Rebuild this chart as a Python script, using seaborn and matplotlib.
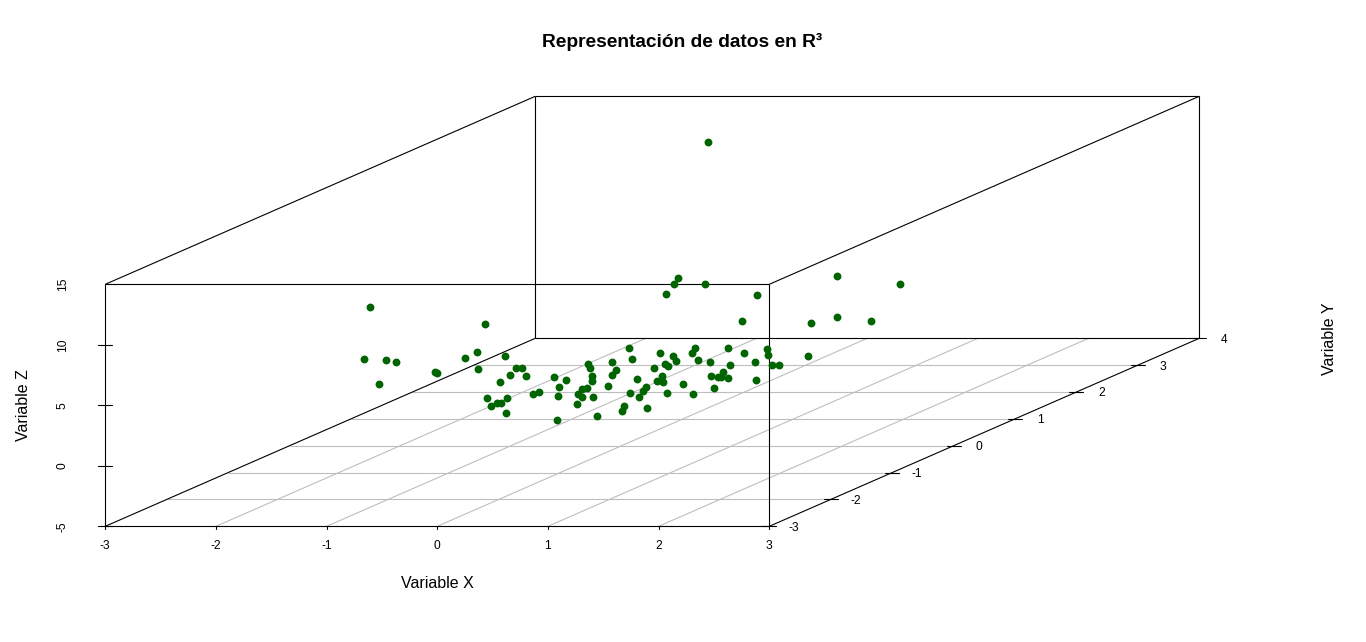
import matplotlib
matplotlib.use('Agg')
import matplotlib.pyplot as plt
import seaborn as sns
import numpy as np

# --- Data ---
# Points are given where they show on the X and Z scales (Y depth is not recoverable)
x_vals = [-0.605, 0.434, -0.66, -0.466, -0.376, -0.524, -0.02, -0.005, 0.253, 0.361,
          0.37, 0.612, 0.714, 0.768, 0.66, 0.799, 0.569, 0.452, 0.633, 0.488,
          0.542, 0.578, 0.623, 1.084, 0.867, 0.922, 1.057, 1.166, 1.102, 1.093,
          1.274, 1.265, 1.735, 1.364, 1.377, 1.581, 1.762, 2.015, 2.132, 2.154,
          2.057, 2.087, 1.961, 2.299, 2.331, 2.358, 1.617, 1.581, 1.401, 1.401,
          1.807, 2.033, 1.988, 2.042, 2.223, 1.545, 1.35, 1.31, 1.31, 1.41,
          1.744, 1.888, 1.861, 1.825, 2.078, 2.313, 1.69, 1.672, 1.898, 1.446,
          2.629, 2.774, 2.982, 2.991, 3.352, 2.467, 2.648, 2.873, 3.027, 3.09,
          2.584, 2.476, 2.539, 2.566, 2.629, 2.882, 2.503, 2.178, 2.142, 2.422,
          2.069, 2.891, 2.756, 3.614, 4.184, 3.614, 3.379, 3.922, 2.446]
z_vals = [13.10, 11.69, 8.80, 8.72, 8.55, 6.74, 7.73, 7.64, 8.88, 9.38,
          7.98, 9.05, 8.06, 8.06, 7.48, 7.40, 6.90, 5.58, 5.58, 4.92,
          5.21, 5.17, 4.34, 3.76, 5.91, 6.07, 7.31, 7.07, 6.49, 5.74,
          5.91, 5.08, 9.71, 8.41, 8.06, 8.60, 8.80, 9.30, 9.07, 8.69,
          8.41, 8.27, 8.06, 9.30, 9.74, 8.72, 7.89, 7.48, 7.40, 6.98,
          7.15, 7.40, 6.98, 6.90, 6.74, 6.57, 6.40, 6.32, 5.66, 5.66,
          5.99, 6.49, 6.16, 5.66, 5.99, 5.91, 4.92, 4.50, 4.75, 4.09,
          9.71, 9.30, 9.63, 9.13, 9.05, 8.55, 8.31, 8.55, 8.31, 8.31,
          7.73, 7.40, 7.31, 7.31, 7.23, 7.07, 6.40, 15.50, 15.00, 15.00,
          14.17, 14.09, 11.94, 15.66, 15.00, 12.27, 11.78, 11.94, 26.76]

x_ticks = [-3, -2, -1, 0, 1, 2, 3]
y_ticks = [-3, -2, -1, 0, 1, 2, 3, 4]
z_ticks = [-5, 0, 5, 10, 15]

title = 'Representación de datos en R³'

# --- Scales of the box (scatterplot3d style oblique projection) ---
W, H = 1366, 642
px_per_x = 110.67
px_per_z = 12.1
x0_px = 437.3   # pixel of X = 0
z0_py = 465.8   # pixel row of Z = 0
dx_per_y = 61.43 / px_per_x
dz_per_y = 26.86 / px_per_z


def proj(x, y, z):
    # shift a point along the depth direction, measured from the front plane Y = -3
    return x + (y - y_ticks[0]) * dx_per_y, z + (y - y_ticks[0]) * dz_per_y


sns.set_style('white')
plt.rcParams['font.family'] = ['Liberation Sans', 'DejaVu Sans']
plt.rcParams['text.color'] = 'black'

fig = plt.figure(figsize=(W / 100, H / 100), dpi=100)
ax = fig.add_axes([0, 0, 1, 1])
ax.set_xlim(-x0_px / px_per_x, (W - x0_px) / px_per_x)
ax.set_ylim((z0_py - H) / px_per_z, z0_py / px_per_z)
ax.axis('off')

xmin, xmax = x_ticks[0], x_ticks[-1]
ymin, ymax = y_ticks[0], y_ticks[-1]
zmin, zmax = z_ticks[0], z_ticks[-1]


def seg(p, q, color='black', lw=0.8):
    a, b = proj(*p), proj(*q)
    ax.plot([a[0], b[0]], [a[1], b[1]], color=color, lw=lw, solid_capstyle='butt', zorder=2)


# --- Floor grid ---
grid_col = '#BEBEBE'
for xt in x_ticks[1:-1]:
    seg((xt, ymin, zmin), (xt, ymax, zmin), grid_col)
for yt in y_ticks[1:-1]:
    seg((xmin, yt, zmin), (xmax, yt, zmin), grid_col)

# --- Box edges ---
for y_plane in (ymin, ymax):
    seg((xmin, y_plane, zmin), (xmax, y_plane, zmin))
    seg((xmin, y_plane, zmax), (xmax, y_plane, zmax))
    seg((xmin, y_plane, zmin), (xmin, y_plane, zmax))
    seg((xmax, y_plane, zmin), (xmax, y_plane, zmax))
for xc in (xmin, xmax):
    for zc in (zmin, zmax):
        seg((xc, ymin, zc), (xc, ymax, zc))

# --- Points ---
sns.scatterplot(x=x_vals, y=z_vals, color='#006400', s=32, linewidth=0, ax=ax, zorder=3, legend=False)

# --- Ticks and tick labels ---
tick_fs = 8.64
x_tick_len = 3 / px_per_z
for xt in x_ticks:
    ax.plot([xt, xt], [zmin, zmin - x_tick_len], color='black', lw=0.8)
    ax.text(xt, zmin - 20 / px_per_z, str(xt), ha='center', va='center', fontsize=tick_fs)

z_tick_len = 7 / px_per_x
for zt in z_ticks:
    if zt != zmax:
        ax.plot([xmin - z_tick_len, xmin + z_tick_len], [zt, zt], color='black', lw=0.8)
    ax.text(xmin - 42.5 / px_per_x, zt, str(zt), rotation=90, ha='center', va='center', fontsize=tick_fs)

for yt in y_ticks:
    px, pz = proj(xmax, yt, zmin)
    ax.plot([px - z_tick_len, px + z_tick_len], [pz, pz], color='black', lw=0.8)
    ax.text(px + 25 / px_per_x, pz - 1.5 / px_per_z, str(yt), ha='center', va='center', fontsize=tick_fs)

# --- Titles ---
fig.text(682.5 / W, 1 - 41.5 / H, title, ha='center', va='center', fontsize=13.82, fontweight='bold')
fig.text(437 / W, 1 - 583.5 / H, 'Variable X', ha='center', va='center', fontsize=11.52)
fig.text(23 / W, 1 - 405.5 / H, 'Variable Z', rotation=90, ha='center', va='center', fontsize=11.52)
fig.text(1329 / W, 1 - 339 / H, 'Variable Y', rotation=90, ha='center', va='center', fontsize=11.52)

fig.savefig('out.png', dpi=100)
